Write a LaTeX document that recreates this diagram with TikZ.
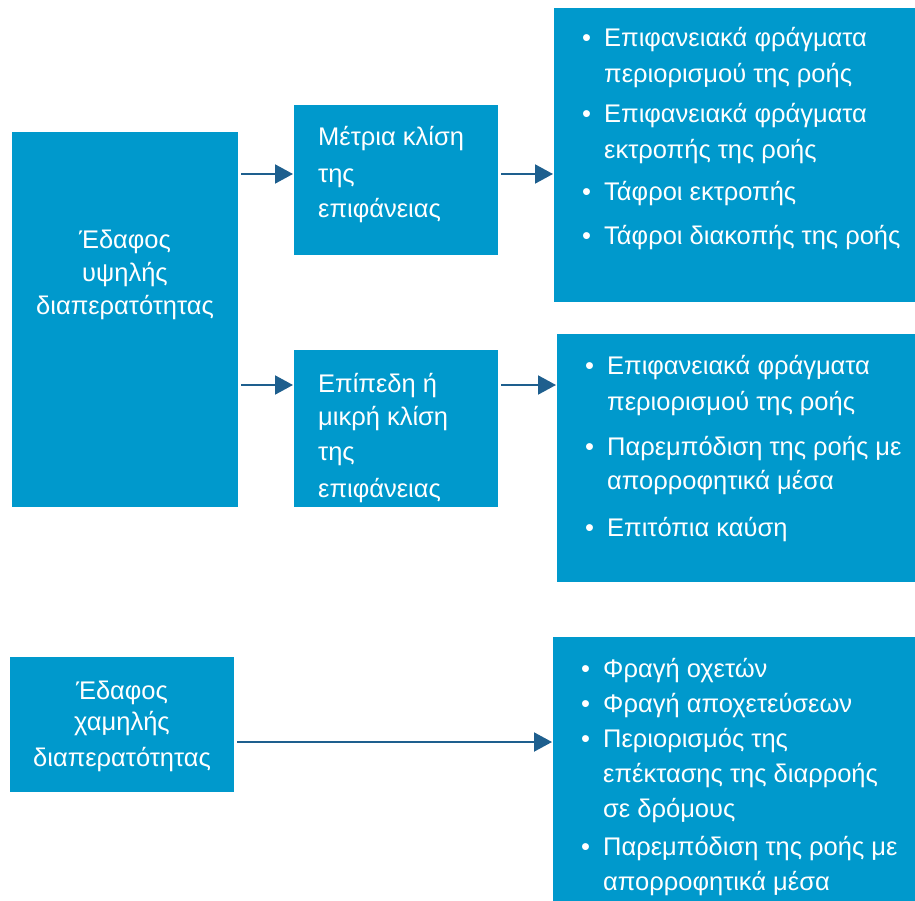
\documentclass[tikz,border=0pt]{standalone}
\usepackage{fontspec}
\setmainfont{Liberation Sans}
\usetikzlibrary{arrows.meta,calc}
\definecolor{boxblue}{HTML}{0099CC}
\definecolor{arrblue}{HTML}{1E5F8E}
\newcommand\bl{\llap{\makebox[22pt][l]{•}}}
\begin{document}
\begin{tikzpicture}[x=1pt,y=-1pt,
  box/.style={fill=boxblue,draw=none,inner sep=0pt,outer sep=0pt,anchor=north west},
  txt/.style={text=white,inner sep=0pt,font=\fontsize{25.5}{30}\selectfont},
  arr/.style={draw=arrblue,line width=2pt,-{Triangle[length=18pt,width=19pt]},shorten <=3pt,shorten >=1pt}]
\useasboundingbox (0,0) rectangle (915,901);
% boxes
\node[box,minimum width=226pt,minimum height=375pt] (A) at (12,132) {};
\node[box,minimum width=204pt,minimum height=150pt] (B) at (294,105) {};
\node[box,minimum width=361pt,minimum height=294pt] (C) at (554,8) {};
\node[box,minimum width=204pt,minimum height=157pt] (D) at (294,350) {};
\node[box,minimum width=358pt,minimum height=248pt] (E) at (557,334) {};
\node[box,minimum width=224pt,minimum height=135pt] (F) at (10,657) {};
\node[box,minimum width=362pt,minimum height=264pt] (G) at (553,637) {};
% box A
\node[txt,anchor=base] (a1) at (125,249) {Έδαφος};
\node[txt,anchor=base] (a2) at (125,281) {υψηλής};
\node[txt,anchor=base] (a3) at (125,314) {διαπερατότητας};
% box B
\node[txt,anchor=base west] (b1) at (318,146) {Μέτρια κλίση};
\node[txt,anchor=base west] (b2) at (318,183) {της};
\node[txt,anchor=base west] (b3) at (318,218) {επιφάνειας};
% box C
\node[txt,anchor=base west] (c1) at (604,47) {\bl Επιφανειακά φράγματα};
\node[txt,anchor=base west] (c2) at (604,83) {περιορισμού της ροής};
\node[txt,anchor=base west] (c3) at (604,123) {\bl Επιφανειακά φράγματα};
\node[txt,anchor=base west] (c4) at (604,159) {εκτροπής της ροής};
\node[txt,anchor=base west] (c5) at (604,201) {\bl Τάφροι εκτροπής};
\node[txt,anchor=base west] (c6) at (604,245) {\bl Τάφροι διακοπής της ροής};
% box D
\node[txt,anchor=base west] (d1) at (318,392) {Επίπεδη ή};
\node[txt,anchor=base west] (d2) at (318,425) {μικρή κλίση};
\node[txt,anchor=base west] (d3) at (318,460) {της};
\node[txt,anchor=base west] (d4) at (318,497) {επιφάνειας};
% box E
\node[txt,anchor=base west] (e1) at (607,374) {\bl Επιφανειακά φράγματα};
\node[txt,anchor=base west] (e2) at (607,410) {περιορισμού της ροής};
\node[txt,anchor=base west] (e3) at (607,455) {\bl Παρεμπόδιση της ροής με};
\node[txt,anchor=base west] (e4) at (607,489) {απορροφητικά μέσα};
\node[txt,anchor=base west] (e5) at (607,536) {\bl Επιτόπια καύση};
% box F
\node[txt,anchor=base] (f1) at (122,699) {Έδαφος};
\node[txt,anchor=base] (f2) at (122,730) {χαμηλής};
\node[txt,anchor=base] (f3) at (122,766) {διαπερατότητας};
% box G
\node[txt,anchor=base west] (g1) at (603,677) {\bl Φραγή οχετών};
\node[txt,anchor=base west] (g2) at (603,712) {\bl Φραγή αποχετεύσεων};
\node[txt,anchor=base west] (g3) at (603,747) {\bl Περιορισμός της};
\node[txt,anchor=base west] (g4) at (603,782) {επέκτασης της διαρροής};
\node[txt,anchor=base west] (g5) at (603,817) {σε δρόμους};
\node[txt,anchor=base west] (g6) at (603,855) {\bl Παρεμπόδιση της ροής με};
\node[txt,anchor=base west] (g7) at (603,890) {απορροφητικά μέσα};
% arrows
\coordinate (y1) at (0,174);
\coordinate (y2) at (0,385);
\coordinate (y3) at (0,742);
\draw[arr] (A.east |- y1) -- (B.west |- y1);
\draw[arr] (B.east |- y1) -- (C.west |- y1);
\draw[arr] (A.east |- y2) -- (D.west |- y2);
\draw[arr] (D.east |- y2) -- (E.west |- y2);
\draw[arr] (F.east |- y3) -- (G.west |- y3);
\end{tikzpicture}
\end{document}
